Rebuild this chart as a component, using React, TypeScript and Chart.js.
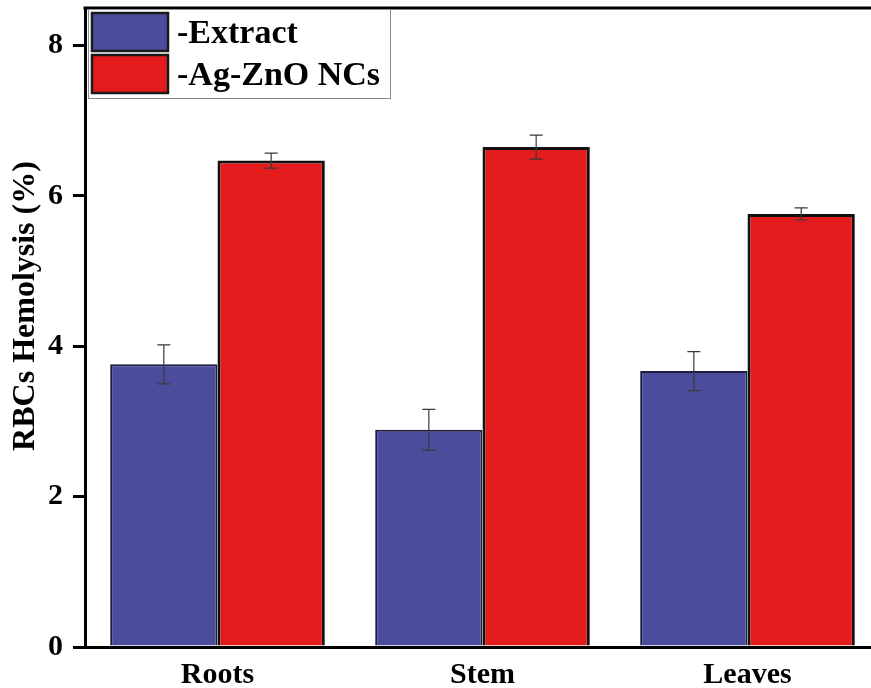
import React, { useEffect, useRef } from "react";
import { Chart, registerables } from "chart.js";

Chart.register(...registerables);

const categories = ["Roots", "Stem", "Leaves"];
const extractValues = [3.76, 2.89, 3.67];
const extractErrors = [0.26, 0.27, 0.26];
const agZnoValues = [6.47, 6.65, 5.76];
const agZnoErrors = [0.1, 0.16, 0.08];
const yTicks = [0, 2, 4, 6, 8];
const yTitle = "RBCs Hemolysis (%)";

const FONT = "'Liberation Serif', 'Times New Roman', serif";

const errorBarPlugin = {
  id: "errorBars",
  afterDatasetsDraw(chart: any) {
    const ctx = chart.ctx;
    const yScale = chart.scales.y;
    ctx.save();
    chart.data.datasets.forEach((ds: any, di: number) => {
      const meta = chart.getDatasetMeta(di);
      const errs: number[] = ds.errors || [];
      meta.data.forEach((bar: any, i: number) => {
        const v = ds.data[i];
        const e = errs[i] || 0;
        const yTop = yScale.getPixelForValue(v + e);
        const yBot = yScale.getPixelForValue(v - e);
        const x = bar.x;
        const cap = 6.5;
        ctx.strokeStyle = "#3a3a3a";
        ctx.lineWidth = 1.2;
        ctx.beginPath();
        ctx.moveTo(x, yTop);
        ctx.lineTo(x, yBot);
        ctx.moveTo(x - cap, yTop);
        ctx.lineTo(x + cap, yTop);
        ctx.moveTo(x - cap, yBot);
        ctx.lineTo(x + cap, yBot);
        ctx.stroke();
      });
    });
    ctx.restore();
  },
};

const frameAndLegendPlugin = {
  id: "frameAndLegend",
  afterDraw(chart: any) {
    const ctx = chart.ctx;
    const { left, top } = chart.chartArea;
    ctx.save();
    // top frame line
    ctx.strokeStyle = "#000";
    ctx.lineWidth = 3;
    ctx.beginPath();
    ctx.moveTo(left - 1.5, top);
    ctx.lineTo(chart.width, top);
    ctx.stroke();

    // y-axis title
    ctx.save();
    ctx.translate(26, 306);
    ctx.rotate(-Math.PI / 2);
    ctx.font = `bold 32px ${FONT}`;
    ctx.fillStyle = "#000";
    ctx.textAlign = "center";
    ctx.textBaseline = "middle";
    ctx.fillText(yTitle, 0, 0);
    ctx.restore();

    // legend box
    const bx = left + 3;
    const by = top + 1;
    const bw = 302;
    const bh = 89;
    ctx.fillStyle = "#fff";
    ctx.fillRect(bx, by, bw, bh);
    ctx.strokeStyle = "#8a8a8a";
    ctx.lineWidth = 1;
    ctx.strokeRect(bx + 0.5, by + 0.5, bw, bh);

    const items = chart.data.datasets.map((ds: any) => ({
      label: ds.label,
      fill: ds.backgroundColor,
    }));
    ctx.font = `bold 34px ${FONT}`;
    ctx.textBaseline = "middle";
    ctx.textAlign = "left";
    items.forEach((it: any, i: number) => {
      const sy = by + 4 + i * 42;
      ctx.fillStyle = it.fill;
      ctx.fillRect(bx + 4, sy, 76, 38);
      ctx.strokeStyle = "#1a1a1a";
      ctx.lineWidth = 2.5;
      ctx.strokeRect(bx + 4, sy, 76, 38);
      ctx.fillStyle = "#000";
      ctx.fillText(it.label, bx + 89, sy + 21);
    });
    ctx.restore();
  },
};

export default function App() {
  const canvasRef = useRef<HTMLCanvasElement | null>(null);

  useEffect(() => {
    if (!canvasRef.current) return;
    const chart = new Chart(canvasRef.current, {
      type: "bar",
      data: {
        labels: categories,
        datasets: [
          {
            label: "-Extract",
            data: extractValues,
            errors: extractErrors,
            backgroundColor: "#4B4C9C",
            borderColor: "#1c1c40",
            borderWidth: 2,
            categoryPercentage: 0.81,
            barPercentage: 1,
          } as any,
          {
            label: "-Ag-ZnO NCs",
            data: agZnoValues,
            errors: agZnoErrors,
            backgroundColor: "#E41B1C",
            borderColor: "#111",
            borderWidth: 3,
            categoryPercentage: 0.81,
            barPercentage: 1,
          } as any,
        ],
      },
      options: {
        responsive: false,
        animation: false,
        devicePixelRatio: 1,
        layout: { padding: { left: 0, right: 12, top: 8, bottom: 0 } },
        plugins: {
          legend: { display: false },
          tooltip: { enabled: false },
        },
        scales: {
          x: {
            grid: { display: false, drawTicks: false },
            border: { display: true, color: "#000", width: 3 },
            ticks: {
              color: "#000",
              padding: 10,
              font: { family: FONT, size: 30, weight: "bold" },
            },
            afterFit(scale: any) {
              scale.height = 41;
              scale.paddingLeft = 0;
              scale.paddingRight = 0;
            },
          },
          y: {
            min: 0,
            max: 8.5,
            grid: {
              drawOnChartArea: false,
              drawTicks: true,
              tickLength: 12,
              lineWidth: 3,
              color: "#000",
            },
            border: { display: true, color: "#000", width: 3 },
            ticks: {
              color: "#000",
              padding: 10,
              font: { family: FONT, size: 30, weight: "bold" },
            },
            afterBuildTicks(scale: any) {
              scale.ticks = yTicks.map((v) => ({ value: v }));
            },
            afterFit(scale: any) {
              scale.width = 85;
              scale.paddingTop = 0;
              scale.paddingBottom = 0;
            },
          },
        },
      } as any,
      plugins: [errorBarPlugin, frameAndLegendPlugin],
    });
    return () => chart.destroy();
  }, []);

  return (
    <div
      style={{
        position: "fixed",
        left: 0,
        top: 0,
        width: 871,
        height: 688,
        overflow: "hidden",
        background: "#fff",
      }}
    >
      <canvas ref={canvasRef} width={892} height={688} style={{ display: "block" }} />
    </div>
  );
}
